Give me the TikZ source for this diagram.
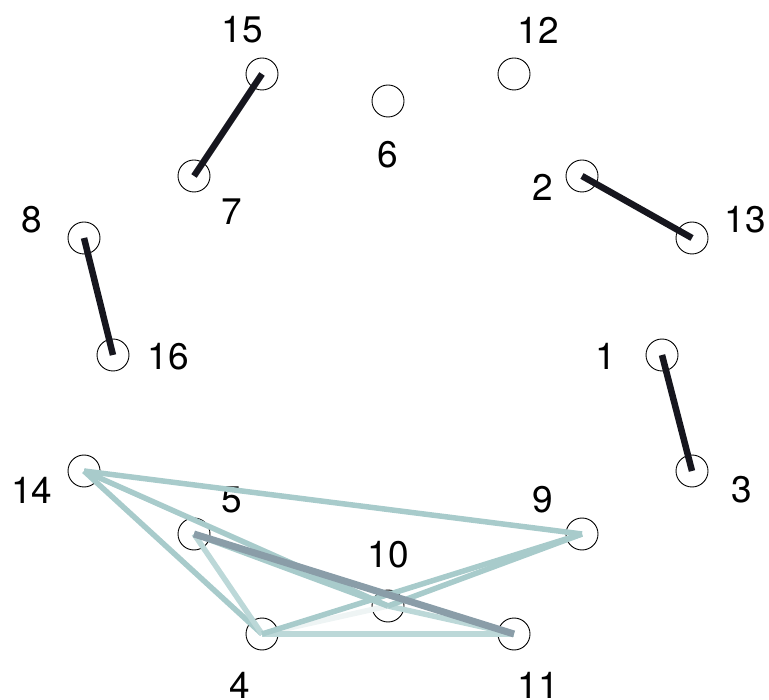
\documentclass[tikz,border=0pt]{standalone}
\usepackage{fontspec}
\setmainfont{TeX Gyre Heros}
\begin{document}
\begin{tikzpicture}[x=1pt,y=-1pt,
  vertex/.style={circle,draw=black,line width=0.9pt,minimum size=32pt,inner sep=0pt},
  lbl/.style={inner sep=0pt,font=\fontsize{37}{37}\selectfont},
  strong/.style={line width=6.5pt,draw={rgb,255:red,22;green,22;blue,30}},
  tie/.style={line width=5.5pt,draw={rgb,255:red,168;green,203;blue,203}},
  tiepale/.style={line width=5.5pt,draw={rgb,255:red,188;green,216;blue,216}},
  tiefaint/.style={line width=5.5pt,draw={rgb,255:red,238;green,244;blue,244}},
  tiedark/.style={line width=7pt,draw={rgb,255:red,138;green,157;blue,168}}]
\useasboundingbox (0,0) rectangle (769,700);

% vertices
\node[vertex] (v15) at (262,74) {};
\node[vertex] (v12) at (514,74) {};
\node[vertex] (v6)  at (388,101) {};
\node[vertex] (v7)  at (194,176) {};
\node[vertex] (v2)  at (582,176) {};
\node[vertex] (v8)  at (84,238) {};
\node[vertex] (v13) at (692,238) {};
\node[vertex] (v16) at (113,355) {};
\node[vertex] (v1)  at (662,355) {};
\node[vertex] (v14) at (84,471) {};
\node[vertex] (v3)  at (692,471) {};
\node[vertex] (v5)  at (194,534) {};
\node[vertex] (v9)  at (582,534) {};
\node[vertex] (v10) at (388,606) {};
\node[vertex] (v4)  at (262,634) {};
\node[vertex] (v11) at (514,634) {};

% labels
\node[lbl] (l15) at (242,30) {15};
\node[lbl] (l12) at (538,30) {12};
\node[lbl] (l6)  at (388,155) {6};
\node[lbl] (l7)  at (232,212) {7};
\node[lbl] (l2)  at (543,187) {2};
\node[lbl] (l8)  at (32,220) {8};
\node[lbl] (l13) at (745,220) {13};
\node[lbl] (l16) at (168,357) {16};
\node[lbl] (l1)  at (606,356) {1};
\node[lbl] (l14) at (32,490) {14};
\node[lbl] (l3)  at (742,490) {3};
\node[lbl] (l5)  at (232,500) {5};
\node[lbl] (l9)  at (543,500) {9};
\node[lbl] (l10) at (388,555) {10};
\node[lbl] (l4)  at (240,685) {4};
\node[lbl] (l11) at (538,685) {11};

% strong pairs
\draw[strong] (v15.center) -- (v7.center);
\draw[strong] (v2.center) -- (v13.center);
\draw[strong] (v8.center) -- (v16.center);
\draw[strong] (v1.center) -- (v3.center);

% lower cluster
\draw[tiefaint] (v4.center) -- (v10.center);
\draw[tiepale] (v4.center) -- (v11.center);
\draw[tiepale] (v10.center) -- (v11.center);
\draw[tie] (v14.center) -- (v9.center);
\draw[tie] (v14.center) -- (v4.center);
\draw[tie] (v14.center) -- (v10.center);
\draw[tiepale] (v5.center) -- (v4.center);
\draw[tie] (v5.center) -- (v10.center);
\draw[tie] (v4.center) -- (v9.center);
\draw[tie] (v10.center) -- (v9.center);
\draw[tiedark] (v5.center) -- (v11.center);
\end{tikzpicture}
\end{document}
